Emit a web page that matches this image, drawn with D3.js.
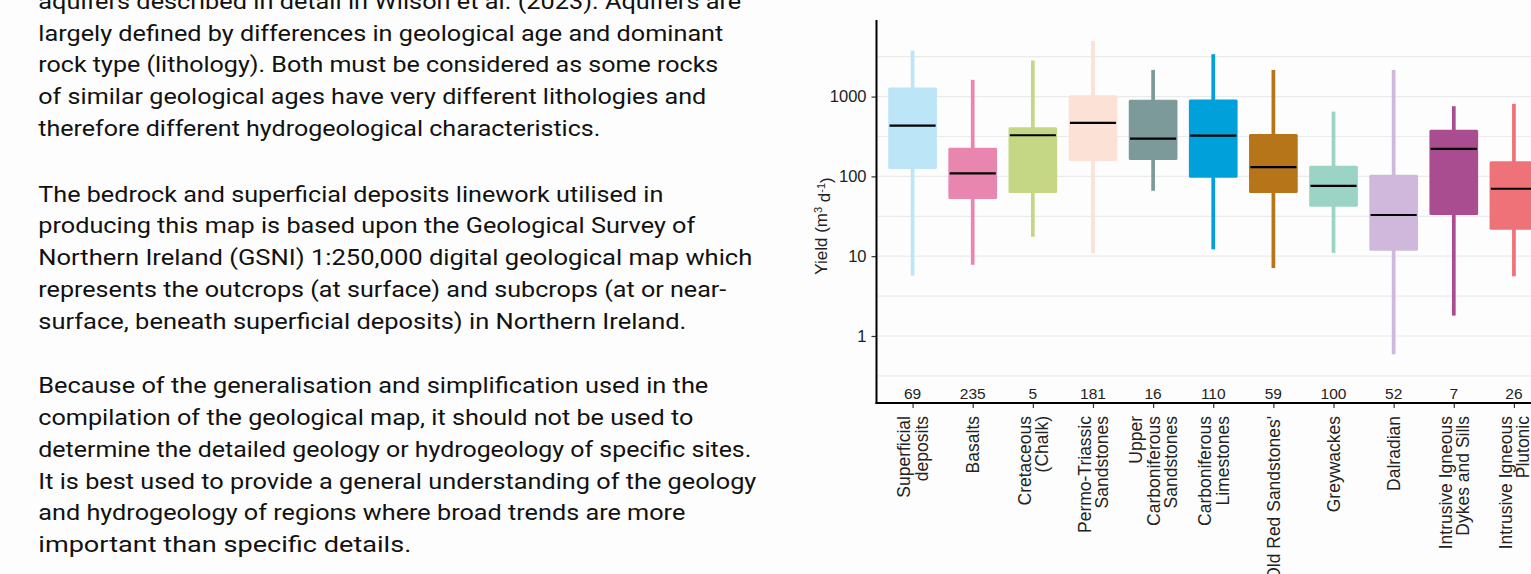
<!DOCTYPE html>
<html>
<head>
<meta charset="utf-8">
<script src="https://cdn.jsdelivr.net/npm/d3@7"></script>
<style>
  html, body { margin: 0; padding: 0; background: #fdfdfd; overflow: hidden; }
  svg { display: block; }
</style>
</head>
<body>
<div id="app"></div>
<script>
// text on the left, one entry per printed line
let para1 = [
  'aquifers described in detail in Wilson et al. (2023). Aquifers are',
  'largely defined by differences in geological age and dominant',
  'rock type (lithology). Both must be considered as some rocks',
  'of similar geological ages have very different lithologies and',
  'therefore different hydrogeological characteristics.'
];
let para2 = [
  'The bedrock and superficial deposits linework utilised in',
  'producing this map is based upon the Geological Survey of',
  'Northern Ireland (GSNI) 1:250,000 digital geological map which',
  'represents the outcrops (at surface) and subcrops (at or near-',
  'surface, beneath superficial deposits) in Northern Ireland.'
];
let para3 = [
  'Because of the generalisation and simplification used in the',
  'compilation of the geological map, it should not be used to',
  'determine the detailed geology or hydrogeology of specific sites.',
  'It is best used to provide a general understanding of the geology',
  'and hydrogeology of regions where broad trends are more',
  'important than specific details.'
];
// measured line widths (px) so the wrap matches the picture
let para1Widths = [703, 685, 680, 668, 562];
let para2Widths = [625, 657, 714, 688, 648];
let para3Widths = [670, 655, 713, 718, 647, 373];

// chart data
let categories = [
  'Superficial\ndeposits', 'Basalts', 'Cretaceous\n(Chalk)', 'Permo-Triassic\nSandstones',
  'Upper\nCarboniferous\nSandstones', 'Carboniferous\nLimestones', "'Old Red Sandstones'",
  'Greywackes', 'Dalradian', 'Intrusive Igneous\nDykes and Sills', 'Intrusive Igneous\nPlutonic'
];
let counts      = [69, 235, 5, 181, 16, 110, 59, 100, 52, 7, 26];
let whiskerLow  = [5.7, 7.8, 17.5, 10.9, 66, 12.2, 7.1, 11, 0.59, 1.8, 5.6];
let q1          = [124, 52, 62, 156, 161, 96, 62, 41.7, 11.7, 32.8, 21.4];
let medians     = [433, 109, 328, 468, 297, 324, 131, 76, 32.8, 221, 70];
let q3          = [1297, 229, 413, 1041, 910, 917, 340, 136, 105, 385, 155];
let whiskerHigh = [3780, 1620, 2830, 5000, 2160, 3400, 2160, 649, 2160, 758, 810];
let colors = ['#bde5f8', '#e986af', '#c5d784', '#fce1d6', '#7d9a9a', '#00a0da',
              '#b57518', '#9bd3c5', '#cfb8dc', '#aa4c90', '#ee7277'];
let yTicks = [1, 10, 100, 1000];
let yMinor = [0.316, 3.16, 31.6, 316, 3162];
let countPos = 0.19;

let W = 1531, H = 574;
let plot = { left: 876.5, top: 20, bottom: 403, right: 1550 };

let svg = d3.select('#app').append('svg')
  .attr('width', W)
  .attr('height', H)
  .style('background', '#fdfdfd');

// paragraphs
let textG = svg.append('g')
  .style('font-family', 'Roboto, "Open Sans", sans-serif')
  .style('font-size', '22.5px')
  .style('fill', '#111');

[[para1, para1Widths, 8.7], [para2, para2Widths, 201.5], [para3, para3Widths, 393.2]].forEach(function(p) {
  p[0].forEach(function(line, i) {
    textG.append('text')
      .attr('x', 38.3)
      .attr('y', p[2] + i * 31.8)
      .attr('textLength', p[1][i])
      .attr('lengthAdjust', 'spacingAndGlyphs')
      .text(line);
  });
});

// scales
let yScale = d3.scaleLog()
  .domain([Math.pow(10, -0.84), Math.pow(10, 3.96)])
  .range([plot.bottom, plot.top]);

let xScale = d3.scalePoint()
  .domain(categories)
  .range([plot.left, plot.right])
  .padding(0.6);

let step = xScale.step();
let boxW = step * 0.81;

let chart = svg.append('g')
  .style('font-family', '"Liberation Sans", Arial, sans-serif');

// grid lines
chart.append('g')
  .selectAll('line')
  .data(yTicks.concat(yMinor))
  .enter()
  .append('line')
    .attr('x1', plot.left)
    .attr('x2', W)
    .attr('y1', function(d) { return yScale(d); })
    .attr('y2', function(d) { return yScale(d); })
    .style('stroke', '#ebebeb')
    .style('stroke-width', 1.2);

// boxes
let boxes = chart.append('g')
  .selectAll('g')
  .data(categories)
  .enter()
  .append('g');

boxes.append('rect')
  .attr('x', function(d) { return xScale(d) - 1.85; })
  .attr('width', 3.7)
  .attr('y', function(d, i) { return yScale(whiskerHigh[i]); })
  .attr('height', function(d, i) { return yScale(whiskerLow[i]) - yScale(whiskerHigh[i]); })
  .style('fill', function(d, i) { return colors[i]; });

boxes.append('rect')
  .attr('x', function(d) { return xScale(d) - boxW / 2; })
  .attr('width', boxW)
  .attr('y', function(d, i) { return yScale(q3[i]); })
  .attr('height', function(d, i) { return yScale(q1[i]) - yScale(q3[i]); })
  .attr('rx', 1.5)
  .style('fill', function(d, i) { return colors[i]; });

boxes.append('line')
  .attr('x1', function(d) { return xScale(d) - boxW / 2 + 1.3; })
  .attr('x2', function(d) { return xScale(d) + boxW / 2 - 1.3; })
  .attr('y1', function(d, i) { return yScale(medians[i]); })
  .attr('y2', function(d, i) { return yScale(medians[i]); })
  .style('stroke', '#000')
  .style('stroke-width', 2.2);

// counts
boxes.append('text')
  .attr('x', function(d) { return xScale(d); })
  .attr('y', yScale(countPos))
  .attr('dy', '0.35em')
  .attr('text-anchor', 'middle')
  .style('font-size', '15.5px')
  .style('fill', '#222')
  .text(function(d, i) { return counts[i]; });

// y axis
let yAxis = d3.axisLeft(yScale)
  .tickValues(yTicks)
  .tickFormat(d3.format('d'))
  .tickSize(5)
  .tickPadding(5);

let yGuide = chart.append('g')
  .attr('transform', `translate(${plot.left}, 0)`)
  .call(yAxis);
yGuide.select('.domain').remove();
yGuide.selectAll('line').style('stroke', '#333').style('stroke-width', 1.2);
yGuide.selectAll('text')
  .style('font-family', '"Liberation Sans", Arial, sans-serif')
  .style('font-size', '16.5px')
  .style('fill', '#222');

// x axis
let xAxis = d3.axisBottom(xScale)
  .tickSize(5)
  .tickFormat('');

let xGuide = chart.append('g')
  .attr('transform', `translate(0, ${plot.bottom})`)
  .call(xAxis);
xGuide.select('.domain').remove();
xGuide.selectAll('line').style('stroke', '#333').style('stroke-width', 1.2);
xGuide.selectAll('.tick text').remove();

xGuide.selectAll('.tick').each(function(d) {
  let lines = d.split('\n');
  let t = d3.select(this).append('text')
    .attr('transform', 'rotate(-90)')
    .attr('text-anchor', 'end')
    .style('font-family', '"Liberation Sans", Arial, sans-serif')
    .style('font-size', '17.5px')
    .style('fill', '#222');
  lines.forEach(function(line, i) {
    t.append('tspan')
      .attr('x', -13)
      .attr('y', (i - (lines.length - 1) / 2) * 17.5)
      .attr('dy', '0.35em')
      .text(line);
  });
});

// axis lines
chart.append('line')
  .attr('x1', plot.left).attr('x2', plot.left)
  .attr('y1', plot.top).attr('y2', plot.bottom + 1)
  .style('stroke', '#000').style('stroke-width', 2);
chart.append('line')
  .attr('x1', plot.left - 1).attr('x2', W)
  .attr('y1', plot.bottom).attr('y2', plot.bottom)
  .style('stroke', '#000').style('stroke-width', 2);

// y title
let yTitle = chart.append('text')
  .attr('transform', 'translate(827, 226) rotate(-90)')
  .attr('text-anchor', 'middle')
  .style('font-size', '17px')
  .style('fill', '#222');
yTitle.append('tspan').text('Yield (m');
yTitle.append('tspan').attr('dy', '-0.45em').style('font-size', '11px').text('3');
yTitle.append('tspan').attr('dy', '0.45em').text(' d');
yTitle.append('tspan').attr('dy', '-0.45em').style('font-size', '11px').text('-1');
yTitle.append('tspan').attr('dy', '0.45em').text(')');
</script>
</body>
</html>
